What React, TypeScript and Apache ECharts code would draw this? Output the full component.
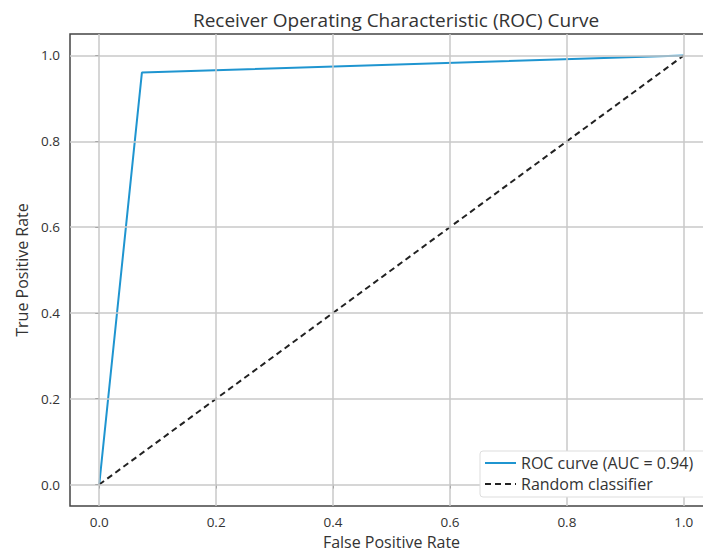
import React, { useEffect, useRef } from "react";
import * as echarts from "echarts";

const rocFpr = [0, 0.073, 1];
const rocTpr = [0, 0.96, 1];
const randFpr = [0, 1];
const randTpr = [0, 1];
const tickValues = [0, 0.2, 0.4, 0.6, 0.8, 1.0];
const rocName = "ROC curve (AUC = 0.94)";
const randName = "Random classifier";
const titleText = "Receiver Operating Characteristic (ROC) Curve";
const xName = "False Positive Rate";
const yName = "True Positive Rate";

const FONT = "'Open Sans', 'DejaVu Sans', sans-serif";

export default function App() {
  const ref = useRef<HTMLDivElement>(null);
  useEffect(() => {
    document.body.style.margin = "0";
    const chart = echarts.init(ref.current!, undefined, { renderer: "svg" });
    const tickLabel = (v: number) => v.toFixed(1);
    const gridData: any[] = tickValues
      .map((v) => ({ xAxis: v }) as any)
      .concat(tickValues.map((v) => ({ yAxis: v }) as any));
    chart.setOption({
      animation: false,
      backgroundColor: "#fff",
      textStyle: { fontFamily: FONT },
      title: {
        text: titleText,
        left: 391,
        textAlign: "center",
        top: 5,
        textStyle: { fontFamily: FONT, fontSize: 19, fontWeight: "normal", color: "#333" },
      },
      grid: {
        left: 70,
        top: 34,
        width: 643,
        height: 472,
        containLabel: false,
        outerBoundsMode: "none",
        show: true,
        borderColor: "#444",
        borderWidth: 1.5,
        backgroundColor: "transparent",
      },
      legend: {
        orient: "vertical",
        left: 480,
        top: 451,
        z: 10,
        itemWidth: 31,
        itemHeight: 12,
        itemGap: 5,
        padding: [4, 45, 5, 4],
        backgroundColor: "#fff",
        borderColor: "#ddd",
        borderWidth: 1,
        borderRadius: 3,
        itemStyle: { opacity: 0 },
        textStyle: { fontFamily: FONT, fontSize: 16, color: "#333" },
        data: [rocName, randName],
      },
      xAxis: {
        type: "value",
        min: -0.05,
        max: 1.05,
        name: xName,
        nameLocation: "middle",
        nameGap: 24,
        nameTextStyle: { fontFamily: FONT, fontSize: 16, color: "#333" },
        axisLine: { show: false },
        axisTick: { show: true, length: 4, lineStyle: { color: "#444" }, customValues: tickValues },
        axisLabel: {
          fontFamily: FONT,
          fontSize: 13.5,
          color: "#333",
          margin: 9,
          customValues: tickValues,
          formatter: tickLabel,
        },
        splitLine: { show: false },
      },
      yAxis: {
        type: "value",
        min: -0.05,
        max: 1.05,
        name: yName,
        nameLocation: "middle",
        nameGap: 40,
        nameTextStyle: { fontFamily: FONT, fontSize: 16, color: "#333" },
        axisLine: { show: false },
        axisTick: { show: true, length: 4, lineStyle: { color: "#444" }, customValues: tickValues },
        axisLabel: {
          fontFamily: FONT,
          fontSize: 13.5,
          color: "#333",
          margin: 10,
          customValues: tickValues,
          formatter: tickLabel,
        },
        splitLine: { show: false },
      },
      series: [
        {
          name: "gridLines",
          type: "line",
          silent: true,
          data: [],
          markLine: {
            silent: true,
            symbol: "none",
            label: { show: false },
            lineStyle: { color: "#c8c8c8", width: 1.5, type: "solid" },
            data: gridData,
          },
          z: 1,
        },
        {
          name: rocName,
          type: "line",
          data: rocFpr.map((x, i) => [x, rocTpr[i]]),
          showSymbol: false,
          symbol: "none",
          lineStyle: { color: "#1f95d0", width: 2 },
          itemStyle: { color: "#1f95d0" },
          z: 3,
        },
        {
          name: randName,
          type: "line",
          data: randFpr.map((x, i) => [x, randTpr[i]]),
          showSymbol: false,
          symbol: "none",
          lineStyle: { color: "#222", width: 2, type: [6, 4] },
          itemStyle: { color: "#222" },
          z: 3,
        },
      ],
    });
    return () => chart.dispose();
  }, []);
  return <div ref={ref} style={{ width: 703, height: 550 }} />;
}
